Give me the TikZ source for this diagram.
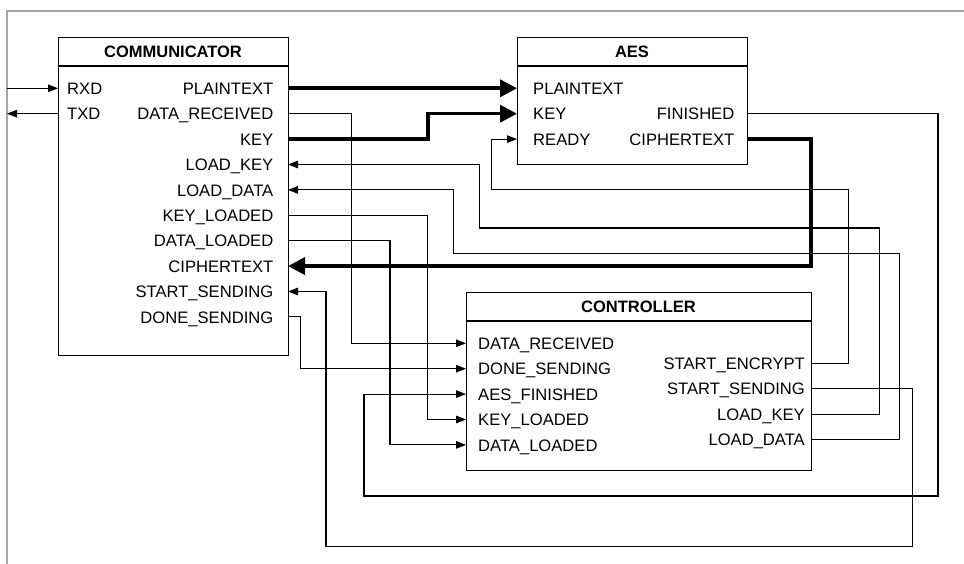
\documentclass[tikz,border=0pt]{standalone}
\usepackage{fontspec}
\setmainfont{Liberation Sans}
\usetikzlibrary{arrows.meta}
\begin{document}
\begin{tikzpicture}[x=1pt,y=-1pt,
  blockbox/.style={draw,line width=1.3pt,rectangle,inner sep=0pt,anchor=north west},
  blocktitle/.style={font=\bfseries\fontsize{16.5}{19}\selectfont,anchor=base,inner sep=0pt},
  lport/.style={font=\fontsize{16.6}{19}\selectfont,anchor=base west,inner sep=0pt},
  rport/.style={font=\fontsize{16.6}{19}\selectfont,anchor=base east,inner sep=0pt},
  wire/.style={line width=1.1pt},
  sig/.style={wire,-{Triangle[length=10pt,width=7.5pt]}},
  bus/.style={line width=3.6pt,-{Triangle[length=17pt,width=17pt]}},
  frameline/.style={draw=black!35,line width=1.4pt}
]
\useasboundingbox (0,0) rectangle (964,564);

% outer frame (top and left edges)
\draw[frameline] (964,11) -- (7,11) -- (7,564);

% ---------- blocks ----------
\node[blockbox,minimum width=230pt,minimum height=318pt] (comm) at (58,37) {};
\node[blockbox,minimum width=230pt,minimum height=127pt] (aes) at (517,37) {};
\node[blockbox,minimum width=345pt,minimum height=178pt] (ctrl) at (466,292) {};

\draw[line width=1.3pt] ([yshift=-29pt]comm.north west) -- ([yshift=-29pt]comm.north east);
\draw[line width=1.3pt] ([yshift=-29pt]aes.north west) -- ([yshift=-29pt]aes.north east);
\draw[line width=1.3pt] ([yshift=-29pt]ctrl.north west) -- ([yshift=-29pt]ctrl.north east);

\node[blocktitle] (comm-t) at (173,57.5) {COMMUNICATOR};
\node[blocktitle] (aes-t) at (632,57.5) {AES};
\node[blocktitle] (ctrl-t) at (638.5,312.4) {CONTROLLER};

% ---------- ports ----------
\coordinate (c-rxd) at (58,88.3);
\coordinate (c-txd) at (58,113.7);
\coordinate (c-plain) at (288,88.3);
\coordinate (c-drx) at (288,113.7);
\coordinate (c-key) at (288,139.1);
\coordinate (c-lkey) at (288,164.5);
\coordinate (c-ldata) at (288,189.9);
\coordinate (c-kl) at (288,215.3);
\coordinate (c-dl) at (288,240.7);
\coordinate (c-ciph) at (288,266.1);
\coordinate (c-ss) at (288,291.5);
\coordinate (c-ds) at (288,316.9);

\coordinate (a-plain) at (517,88.3);
\coordinate (a-key) at (517,113.7);
\coordinate (a-ready) at (517,139.1);
\coordinate (a-fin) at (747,113.7);
\coordinate (a-ciph) at (747,139.1);

\coordinate (k-drx) at (466,343.3);
\coordinate (k-ds) at (466,368.7);
\coordinate (k-af) at (466,394.1);
\coordinate (k-kl) at (466,419.5);
\coordinate (k-dl) at (466,444.9);
\coordinate (k-senc) at (811,363.3);
\coordinate (k-ss) at (811,388.7);
\coordinate (k-lkey) at (811,414.1);
\coordinate (k-ldata) at (811,439.5);

\coordinate (ext-in) at (7,88.3);
\coordinate (ext-out) at (7,113.7);

% ---------- port labels ----------
\node[lport] (l-rxd) at (67,94.5) {RXD};
\node[lport] (l-txd) at (67,119.9) {TXD};
\node[rport] (l-cplain) at (273.5,94.5) {PLAINTEXT};
\node[rport] (l-cdrx) at (273.5,119.9) {DATA\_RECEIVED};
\node[rport] (l-ckey) at (273.5,145.3) {KEY};
\node[rport] (l-clkey) at (273.5,170.7) {LOAD\_KEY};
\node[rport] (l-cldata) at (273.5,196.1) {LOAD\_DATA};
\node[rport] (l-ckl) at (273.5,221.5) {KEY\_LOADED};
\node[rport] (l-cdl) at (273.5,246.9) {DATA\_LOADED};
\node[rport] (l-cciph) at (273.5,272.3) {CIPHERTEXT};
\node[rport] (l-css) at (273.5,297.7) {START\_SENDING};
\node[rport] (l-cds) at (273.5,323.1) {DONE\_SENDING};

\node[lport] (l-aplain) at (533,94.5) {PLAINTEXT};
\node[lport] (l-akey) at (533,119.9) {KEY};
\node[lport] (l-aready) at (533,145.3) {READY};
\node[rport] (l-afin) at (734.5,119.9) {FINISHED};
\node[rport] (l-aciph) at (734.5,145.3) {CIPHERTEXT};

\node[lport] (l-kdrx) at (478,349.5) {DATA\_RECEIVED};
\node[lport] (l-kds) at (478,374.9) {DONE\_SENDING};
\node[lport] (l-kaf) at (478,400.3) {AES\_FINISHED};
\node[lport] (l-kkl) at (478,425.7) {KEY\_LOADED};
\node[lport] (l-kdl) at (478,451.1) {DATA\_LOADED};
\node[rport] (l-ksenc) at (805,369.5) {START\_ENCRYPT};
\node[rport] (l-kss) at (805,394.9) {START\_SENDING};
\node[rport] (l-klkey) at (805,420.3) {LOAD\_KEY};
\node[rport] (l-kldata) at (805,445.7) {LOAD\_DATA};

% ---------- connections ----------
\draw[sig] (ext-in) -- (c-rxd);
\draw[sig] (c-txd) -- (ext-out);

\draw[bus] (c-plain) -- (a-plain);
\draw[bus] (c-key) -- ++(139.7,0) |- (a-key);
\draw[bus] (a-ciph) -- ++(64,0) |- (c-ciph);

\draw[sig] (c-drx) -- ++(63.7,0) |- (k-drx);
\draw[sig] (k-senc) -- ++(37.3,0) -- ++(0,-174) -- ++(-356.6,0) |- (a-ready);
\draw[sig] (k-lkey) -- ++(68.3,0) -- ++(0,-186.1) -- ++(-400,0) |- (c-lkey);
\draw[sig] (k-ldata) -- ++(88.3,0) -- ++(0,-186.2) -- ++(-446,0) |- (c-ldata);
\draw[sig] (c-kl) -- ++(139.7,0) |- (k-kl);
\draw[sig] (c-dl) -- ++(102,0) |- (k-dl);
\draw[sig] (k-ss) -- ++(101.5,0) -- ++(0,158) -- ++(-586.5,0) |- (c-ss);
\draw[sig] (c-ds) -- ++(12.7,0) |- (k-ds);
\draw[sig] (a-fin) -- ++(191,0) -- ++(0,382.3) -- ++(-574,0) |- (k-af);
\end{tikzpicture}
\end{document}
